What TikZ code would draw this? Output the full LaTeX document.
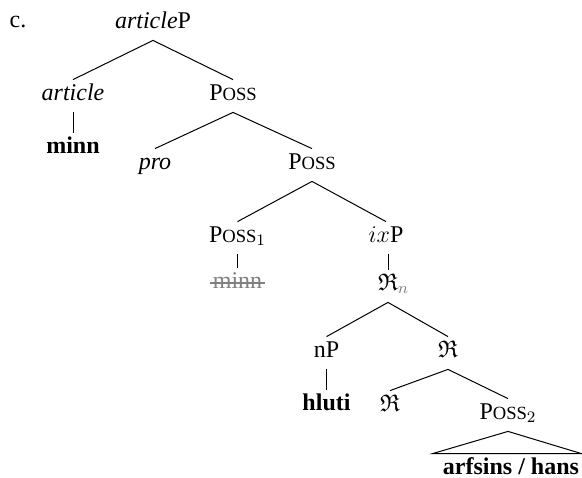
\documentclass[tikz,border=0pt]{standalone}
\usepackage{amssymb}
\usepackage{fontspec}
\setmainfont{Liberation Serif}
\usetikzlibrary{calc}
\newcommand{\Pss}{P{\fontsize{9.3}{10}\selectfont OSS}}
\begin{document}
\begin{tikzpicture}[x=0.5pt,y=-0.5pt,
  lbl/.style={inner sep=0pt, text height=10pt, text depth=6pt, anchor=base, font=\fontsize{12}{14}\selectfont},
  br/.style={line width=0.5pt, black},
  struck/.style={line width=0.6pt, gray}]
\useasboundingbox (0,0) rectangle (582,477);
\node[lbl] (c) at (18,27) {c.};
\node[lbl] (aP) at (153,28) {\textit{article}P};
\node[lbl] (art) at (73,100) {\textit{article}};
\node[lbl] (minn) at (73,153) {\textbf{minn}};
\node[lbl] (pa) at (233,100) {\Pss};
\node[lbl] (pro) at (155,169) {\textit{pro}};
\node[lbl] (pb) at (312,169) {\Pss};
\node[lbl] (p1) at (237.5,242) {\Pss$_1$};
\node[lbl] (ixP) at (386,242) {$ix$P};
\node[lbl,text=gray] (mn) at (237.5,288) {minn};
\node[lbl] (Rn) at (388,290) {$\mathfrak{R}\rlap{$_{\color{gray}n}$}$};
\node[lbl] (nP) at (326.5,357) {nP};
\node[lbl] (Rr) at (448,357) {$\mathfrak{R}$};
\node[lbl] (hl) at (326.5,410) {\textbf{hluti}};
\node[lbl] (Rs) at (390,411) {$\mathfrak{R}$};
\node[lbl] (p2) at (508,419) {\Pss$_2$};
\node[lbl] (arf) at (511,474) {\textbf{arfsins / hans}};
\draw[br] (aP.south) -- (art.north);
\draw[br] (aP.south) -- (pa.north);
\draw[br] (art.south) -- (minn.north);
\draw[br] (pa.south) -- (pro.north);
\draw[br] (pa.south) -- (pb.north);
\draw[br] (pb.south) -- (p1.north);
\draw[br] (pb.south) -- (ixP.north);
\draw[br] (p1.south) -- (mn.north);
\draw[br] (ixP.south -| Rn.north) -- (Rn.north);
\draw[br] (Rn.south) -- (nP.north);
\draw[br] (Rn.south) -- (Rr.north);
\draw[br] (nP.south) -- (hl.north);
\draw[br] (Rr.south) -- (Rs.north);
\draw[br] (Rr.south) -- (p2.north);
\draw[br] (p2.south) -- ($(arf.north west)+(-10,0)$) -- ($(arf.north east)+(2,0)$) -- cycle;
\draw[struck] ($(mn.base west)+(-2,-5)$) -- ($(mn.base east)+(2,-5)$);
\end{tikzpicture}
\end{document}
